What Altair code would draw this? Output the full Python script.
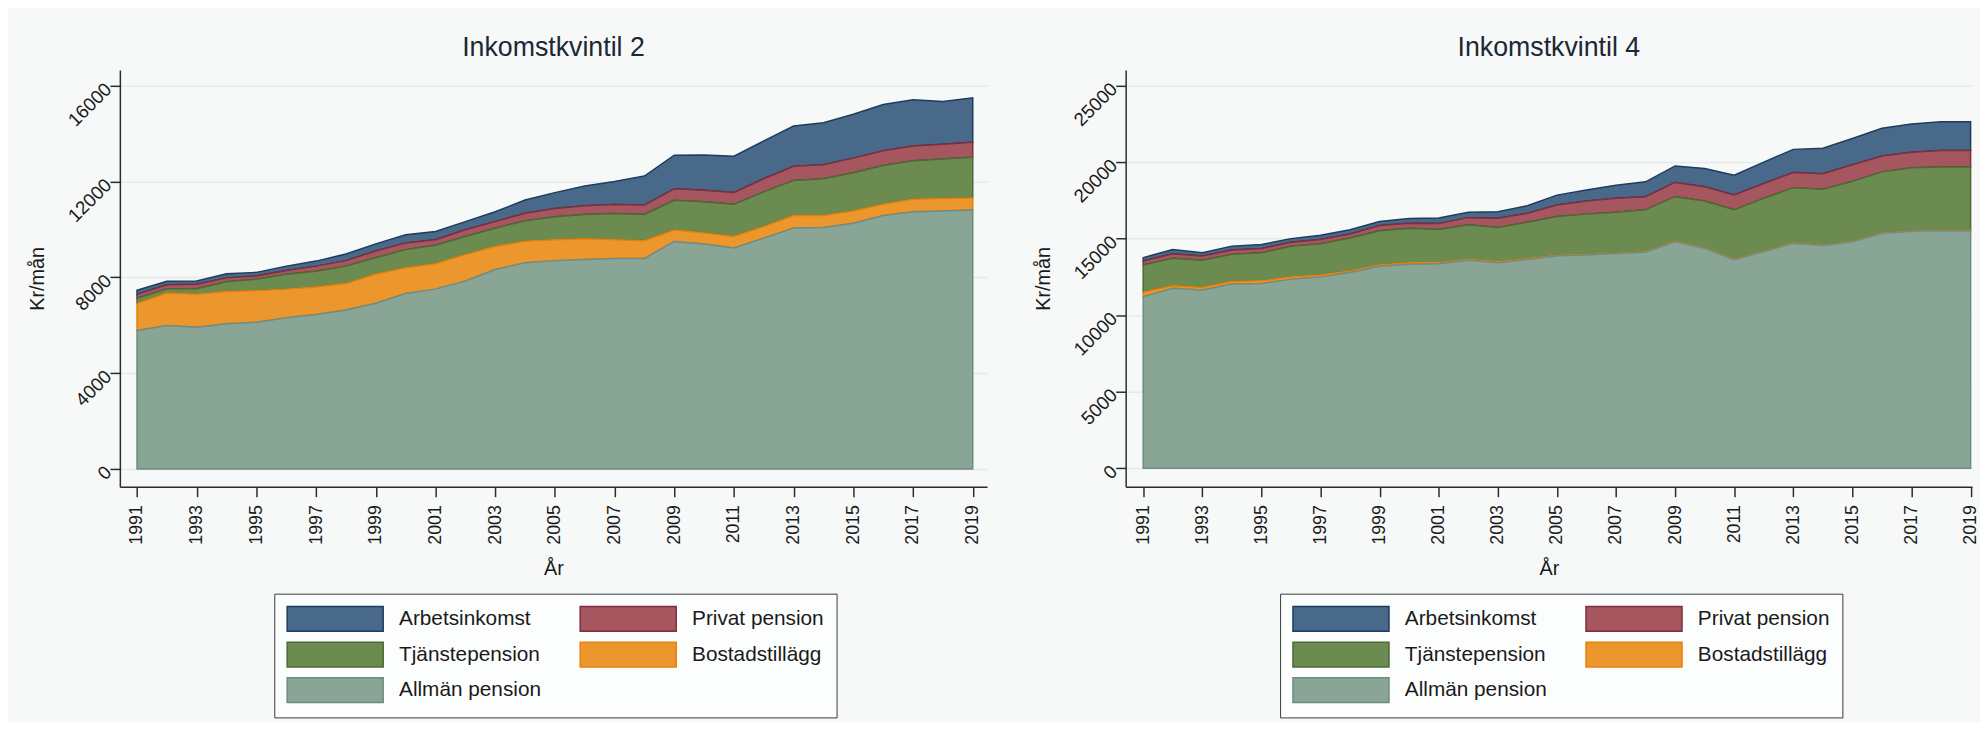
import altair as alt
import pandas as pd

years = list(range(1991, 2020))
tick_years = list(range(1991, 2020, 2))

series = ["Arbetsinkomst", "Privat pension", "Tjänstepension", "Bostadstillägg", "Allmän pension"]
fill_colors = ["#48698a", "#a6565f", "#6b8b50", "#ec962e", "#89a596"]
stroke_colors = ["#1d3d5e", "#7e2e3d", "#4b6a35", "#e4820c", "#6f8c80"]
stack_rank = [5, 4, 3, 2, 1]

# Inkomstkvintil 2 (kr/mån)
q2_allman = [5780, 5990, 5920, 6060, 6130, 6310, 6450, 6640, 6920, 7330, 7510, 7850, 8330, 8610, 8700,
             8750, 8790, 8790, 9500, 9390, 9230, 9640, 10060, 10080, 10260, 10580, 10740, 10770, 10810]
q2_bostad = [1130, 1360, 1380, 1350, 1310, 1200, 1150, 1100, 1210, 1070, 1060, 1100, 960, 900, 870,
             860, 780, 740, 480, 460, 480, 480, 520, 500, 510, 470, 520, 520, 510]
q2_tjanste = [220, 170, 230, 410, 480, 620, 660, 730, 690, 760, 770, 760, 760, 850, 960,
              1020, 1100, 1100, 1240, 1310, 1340, 1450, 1470, 1540, 1600, 1620, 1610, 1650, 1700]
q2_privat = [160, 170, 180, 160, 140, 160, 210, 230, 280, 280, 230, 280, 280, 320, 350,
             360, 370, 390, 480, 480, 500, 550, 590, 580, 610, 620, 620, 620, 620]
q2_arbete = [170, 150, 140, 170, 150, 180, 210, 280, 300, 340, 350, 340, 410, 550, 660,
             830, 960, 1210, 1400, 1470, 1510, 1580, 1680, 1760, 1830, 1930, 1930, 1790, 1860]

# Inkomstkvintil 4 (kr/mån)
q4_allman = [11210, 11750, 11640, 12030, 12070, 12350, 12500, 12780, 13190, 13320, 13360, 13580, 13430, 13640, 13880,
             13930, 14020, 14110, 14800, 14370, 13620, 14150, 14700, 14550, 14800, 15350, 15480, 15520, 15490]
q4_bostad = [280, 170, 170, 170, 170, 150, 130, 110, 90, 100, 70, 60, 60, 60, 40,
             40, 30, 30, 30, 30, 30, 30, 30, 20, 20, 20, 20, 20, 20]
q4_tjanste = [1790, 1790, 1770, 1770, 1830, 2000, 2030, 2150, 2240, 2260, 2160, 2260, 2240, 2370, 2520,
              2630, 2670, 2740, 2910, 3060, 3230, 3450, 3600, 3660, 3920, 3990, 4130, 4140, 4170]
q4_privat = [260, 300, 280, 280, 280, 260, 280, 260, 340, 320, 390, 470, 600, 580, 750,
             860, 910, 860, 930, 930, 970, 970, 990, 1010, 1080, 1040, 1010, 1080, 1080]
q4_arbete = [220, 280, 220, 260, 260, 240, 280, 280, 260, 320, 370, 350, 430, 500, 650,
             710, 860, 970, 1080, 1190, 1290, 1400, 1510, 1660, 1720, 1810, 1850, 1880, 1880]

FONT = "Liberation Sans"
TEXT = "#1a1a1a"


def long_df(arb, priv, tjan, bost, allm):
    rows = []
    vals = dict(zip(series, [arb, priv, tjan, bost, allm]))
    for s, r in zip(series, stack_rank):
        for yr, v in zip(years, vals[s]):
            rows.append({"year": yr, "value": v, "series": s, "rank": r})
    return pd.DataFrame(rows)


legend_def = alt.Legend(
    title=None,
    orient="none",
    direction="horizontal",
    legendX=156,
    legendY=529,
    columns=2,
    columnPadding=36,
    rowPadding=5,
    padding=12,
    symbolType="M-1,-1H6.76V1H-1Z",
    symbolSize=625,
    symbolStrokeWidth=1.5,
    symbolOpacity=1,
    labelFont=FONT,
    labelFontSize=21,
    labelColor=TEXT,
    labelOffset=87,
    labelLimit=300,
    fillColor="#fcfdfd",
    strokeColor="#3a3a3a",
)


def panel(df, title, ydomain, yticks, xdomain, width):
    return alt.Chart(df).mark_area(strokeWidth=1.5, interpolate="linear").encode(
        x=alt.X(
            "year:Q",
            scale=alt.Scale(domain=xdomain, nice=False, zero=False),
            axis=alt.Axis(
                values=tick_years, format="d", title="År", labelAngle=-90,
                labelAlign="right", labelBaseline="middle", labelPadding=8,
                tickSize=10, grid=False, titleX=width / 2, titleY=89,
                titleBaseline="alphabetic", titleAlign="center",
            ),
        ),
        y=alt.Y(
            "value:Q", stack="zero",
            scale=alt.Scale(domain=ydomain, nice=False, zero=False),
            axis=alt.Axis(
                values=yticks, format="d", title="Kr/mån", labelAngle=-45,
                labelAlign="right", labelBaseline="middle", labelPadding=2,
                tickSize=10, grid=True, titleX=-83, titleY=210.5,
                titleAngle=-90, titleBaseline="middle", titleAlign="center",
            ),
        ),
        fill=alt.Fill("series:N", scale=alt.Scale(domain=series, range=fill_colors), legend=legend_def),
        stroke=alt.Stroke("series:N", scale=alt.Scale(domain=series, range=stroke_colors), legend=legend_def),
        order=alt.Order("rank:Q"),
    ).properties(
        width=width,
        height=421,
        title=alt.TitleParams(title, fontSize=27, font=FONT, fontWeight="normal",
                              color="#1c2833", anchor="middle", offset=8),
    )


left = panel(long_df(q2_arbete, q2_privat, q2_tjanste, q2_bostad, q2_allman),
             "Inkomstkvintil 2", [-744, 16661], [0, 4000, 8000, 12000, 16000],
             [1990.426, 2019.48], 876)
right = panel(long_df(q4_arbete, q4_privat, q4_tjanste, q4_bostad, q4_allman),
              "Inkomstkvintil 4", [-1210, 26015], [0, 5000, 10000, 15000, 20000, 25000],
              [1990.407, 2019.05], 855)

chart = alt.hconcat(left, right, spacing=47).resolve_scale(
    x="independent", y="independent", fill="independent", stroke="independent"
).resolve_legend(
    fill="independent", stroke="independent"
).configure(
    background="#f6f9f8",
    padding={"left": 20, "top": 23, "right": 0, "bottom": 0},
).configure_view(
    stroke=None, fill="#f6f9f8"
).configure_axis(
    labelFont=FONT, labelFontSize=18, labelColor=TEXT,
    titleFont=FONT, titleFontSize=20, titleFontWeight="normal", titleColor=TEXT,
    domainColor="#2b2b2b", domainWidth=1.5, tickColor="#2b2b2b", tickWidth=1.5,
    gridColor="#e6eaea", gridWidth=1.5,
).configure_axisY(labelFontSize=19)

chart.save("out.html", embed_options={"renderer": "svg", "actions": False})
